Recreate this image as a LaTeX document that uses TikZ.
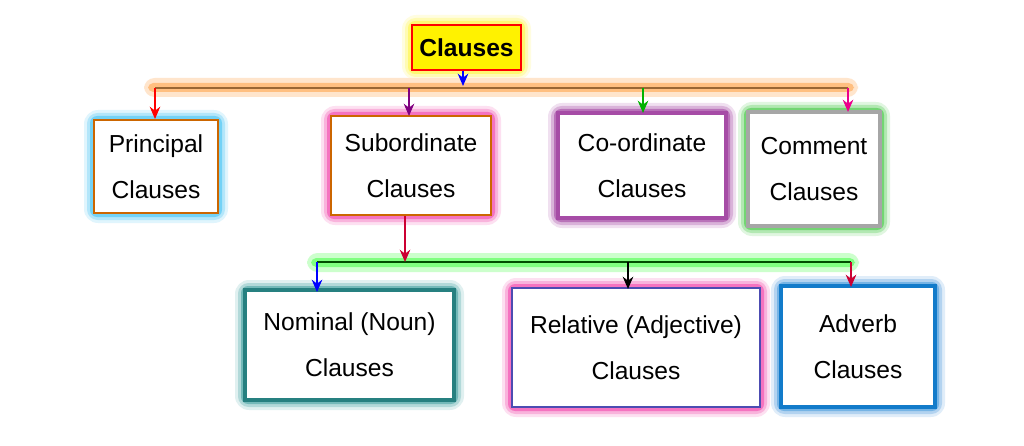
\documentclass[tikz,border=0pt]{standalone}
\usepackage{fontspec}
\setmainfont{Liberation Sans}
\usetikzlibrary{arrows.meta}
\begin{document}
\begin{tikzpicture}[x=0.02cm,y=-0.02cm,
  box/.style={draw=#1,line width=1.3pt,fill=white,inner sep=0pt,align=center,font=\fontsize{14}{26}\selectfont},
  arr/.style={-{Stealth[length=7pt,width=6pt]},line width=0.9pt,draw=#1}]
\useasboundingbox (0,0) rectangle (1024,446);
\fill[white] (0,0) rectangle (1024,446);
\newcommand{\glow}[5]{%
 \fill[#5!12,rounded corners=8pt] (#1-10,#2-10) rectangle (#3+10,#4+10);
 \fill[#5!30,rounded corners=6pt] (#1-7,#2-7) rectangle (#3+7,#4+7);
 \fill[#5!55,rounded corners=4pt] (#1-4,#2-4) rectangle (#3+4,#4+4);}
\glow{412}{25}{521}{70}{yellow}
\glow{94}{120}{218}{213}{cyan}
\glow{331}{116}{491}{215}{magenta}
\glow{558}{113}{726}{218}{violet}
\glow{748}{112}{880}{226}{green!70!black}
\glow{245}{290}{454}{400}{teal}
\glow{512}{288}{760}{407}{magenta}
\glow{781}{286}{935}{407}{cyan!70!blue}
\fill[orange!20,rounded corners=6pt] (144,78) rectangle (858,97);
\fill[orange!50,rounded corners=3pt] (148,83) rectangle (854,92);
\fill[green!20,rounded corners=6pt] (307,253) rectangle (859,272);
\fill[green!50,rounded corners=3pt] (311,258) rectangle (855,267);
\node[box=red,fill=yellow,minimum width=109*0.02cm,minimum height=45*0.02cm,font=\bfseries\fontsize{14}{15}\selectfont] (c) at (466.5,47.5) {Clauses};
\node[box=orange!80!black,minimum width=124*0.02cm,minimum height=93*0.02cm] (p) at (156,166.5) {Principal\\Clauses};
\node[box=orange!80!black,minimum width=160*0.02cm,minimum height=99*0.02cm] (s) at (411,165.5) {Subordinate\\Clauses};
\node[box=violet!70,line width=2.5pt,minimum width=168*0.02cm,minimum height=105*0.02cm] (co) at (642,165.5) {Co-ordinate\\Clauses};
\node[box=gray!70,line width=2pt,minimum width=132*0.02cm,minimum height=114*0.02cm] (cm) at (814,169) {Comment\\Clauses};
\node[box=teal!70!gray,line width=2.5pt,minimum width=209*0.02cm,minimum height=110*0.02cm] (n) at (349.5,345) {Nominal (Noun)\\Clauses};
\node[box=gray!60!blue,minimum width=248*0.02cm,minimum height=119*0.02cm] (r) at (636,347.5) {Relative (Adjective)\\Clauses};
\node[box=cyan!60!blue,line width=2pt,minimum width=154*0.02cm,minimum height=121*0.02cm] (a) at (858,346.5) {Adverb\\Clauses};
\coordinate (b1l) at (155,88); \coordinate (b1r) at (848,88);
\draw[line width=1pt,draw=brown!80!black] (b1l) -- (b1r);
\coordinate (b2l) at (317,262); \coordinate (b2r) at (851,262);
\draw[line width=1pt,draw=black!70!green] (b2l) -- (b2r);
\coordinate (cb) at (463,86);
\draw[arr=blue] (463,71) -- (cb);
\draw[arr=red] (b1l) -- (155,119);
\draw[arr=violet] (409,88) -- (409,116);
\draw[arr=green!70!black] (643,88) -- (643,113);
\draw[arr=magenta] (b1r) -- (848,112);
\coordinate (sb) at (405,262);
\draw[arr=purple!80!red] (s.south -| sb) -- (sb);
\draw[arr=blue] (b2l) -- (317,292);
\draw[arr=black] (628,262) -- (628,289);
\draw[arr=purple!80!red] (b2r) -- (851,287);
\end{tikzpicture}
\end{document}
